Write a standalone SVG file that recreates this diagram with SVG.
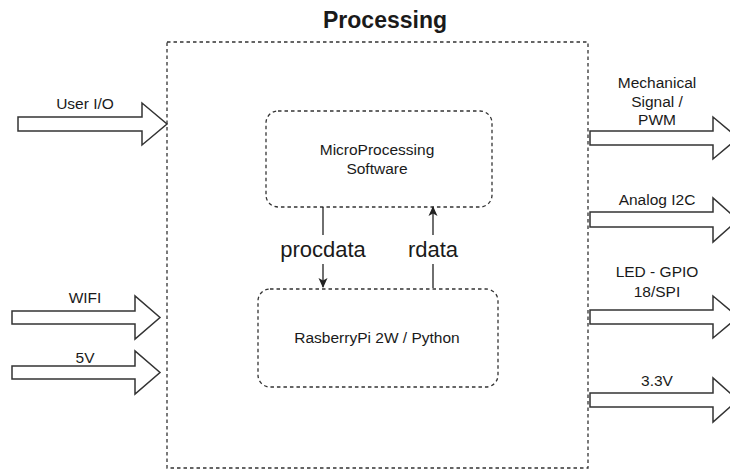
<svg xmlns="http://www.w3.org/2000/svg" width="730" height="470" viewBox="0 0 730 470">
<style>
text{font-family:"Liberation Sans",Arial,sans-serif;fill:#1a1a1a;text-anchor:middle}
.lbl{font-size:15.5px}
.big{font-size:22px}
.title{font-size:23px;font-weight:bold}
.dash{fill:none;stroke:#333;stroke-width:1.3;stroke-dasharray:3.5 3}
.arr{fill:#fff;stroke:#333;stroke-width:1.5;stroke-linejoin:miter}
.con{stroke:#222;stroke-width:1.3;fill:none}
</style>
<defs>
<marker id="ah" markerWidth="10" markerHeight="10" refX="9" refY="5" orient="auto" markerUnits="userSpaceOnUse">
<path d="M0,0.5 L10,5 L0,9.5 L2.5,5 Z" fill="#222"/>
</marker>
</defs>
<rect width="730" height="470" fill="#fff"/>
<g id="processing">
<rect class="dash" x="167" y="42" width="421" height="426"/>
<text class="title" x="385" y="28">Processing</text>
</g>
<g id="microprocessing">
<rect class="dash" x="266" y="111" width="226" height="96" rx="12"/>
<text class="lbl" x="377" y="155">MicroProcessing</text>
<text class="lbl" x="377" y="174">Software</text>
</g>
<g id="rasberrypi">
<rect class="dash" x="258" y="289" width="240" height="98" rx="12"/>
<text class="lbl" x="377" y="343">RasberryPi 2W / Python</text>
</g>
<g id="in-userio">
<path class="arr" d="M18,117 H142 V103 L167,124 L142,145 V131 H18 Z"/>
<text class="lbl" x="85" y="109">User I/O</text>
</g>
<g id="in-wifi">
<path class="arr" d="M12,311 H135 V296 L160,317.5 L135,339 V324 H12 Z"/>
<text class="lbl" x="85" y="303">WIFI</text>
</g>
<g id="in-5v">
<path class="arr" d="M12,366 H135 V351 L160,372.5 L135,394 V379 H12 Z"/>
<text class="lbl" x="85" y="363">5V</text>
</g>
<g id="out-mech">
<path class="arr" d="M590,131 H713 V117 L738,138 L713,159 V145 H590 Z"/>
<text class="lbl" x="657" y="88">Mechanical</text>
<text class="lbl" x="657" y="107">Signal /</text>
<text class="lbl" x="657" y="125">PWM</text>
</g>
<g id="out-analog">
<path class="arr" d="M590,212 H713 V198 L738,220 L713,242 V227 H590 Z"/>
<text class="lbl" x="657" y="205">Analog I2C</text>
</g>
<g id="out-led">
<path class="arr" d="M590,310 H713 V296 L738,317 L713,338 V324 H590 Z"/>
<text class="lbl" x="657" y="277">LED - GPIO</text>
<text class="lbl" x="657" y="297">18/SPI</text>
</g>
<g id="out-33v">
<path class="arr" d="M590,393 H713 V378 L738,400 L713,422 V407 H590 Z"/>
<text class="lbl" x="657" y="386">3.3V</text>
</g>
<g id="connectors">
<path class="con" d="M323,207 V287" marker-end="url(#ah)"/>
<path class="con" d="M433,288 V207" marker-end="url(#ah)"/>
<rect x="276" y="235" width="94" height="29" fill="#fff"/>
<rect x="405" y="235" width="56" height="29" fill="#fff"/>
<text class="big" x="323" y="257">procdata</text>
<text class="big" x="433" y="257">rdata</text>
</g>
</svg>
